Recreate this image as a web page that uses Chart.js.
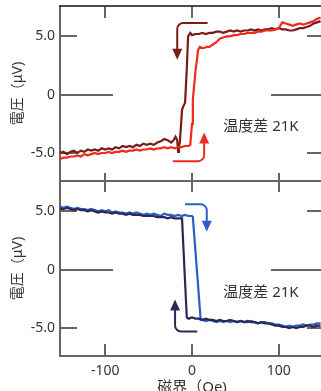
<!DOCTYPE html>
<html lang="ja">
<head>
<meta charset="UTF-8">
<title>磁界と電圧</title>
<script src="https://cdn.jsdelivr.net/npm/chart.js"></script>
<style>
  html, body { margin: 0; padding: 0; overflow: hidden; background: #fff; width: 321px; height: 391px; }
  canvas { position: absolute; left: 0; }
  #topChart { top: 0; }
  #bottomChart { top: 181px; }
</style>
</head>
<body>
<canvas id="topChart" width="330" height="190"></canvas>
<canvas id="bottomChart" width="330" height="210"></canvas>
<script>
// axis ticks
const xTicks = [-100, 0, 100];
const xTickLabels = ['-100', '0', '100'];
const yTicks = [-5, 0, 5];
const yTickLabels = ['-5.0', '0', '5.0'];

// top panel, dark red curve (switches at negative field)
const fieldTopDark = [-152,-148,-144,-140,-136,-132,-128,-124,-120,-116,-112,-108,-104,-100,-96,-92,-88,-84,-80,-76,-72,-68,-64,-60,-56,-52,-48,-44,-40,-36,-32,-28,-24,-21,-19,-17,-16,-15,-14,-11.5,-10,-8,-6,-4.5,-2,0,4,8,12,16,20,24,28,32,36,40,44,48,52,56,60,64,68,72,76,80,84,88,92,96,100,104,108,112,116,120,124,128,132,136,140,144,148];
const voltTopDark = [-5.0,-4.9,-5.1,-4.9,-4.8,-5.0,-4.8,-4.9,-4.7,-4.8,-4.7,-4.8,-4.6,-4.7,-4.6,-4.7,-4.5,-4.6,-4.4,-4.5,-4.4,-4.5,-4.3,-4.4,-4.2,-4.3,-4.2,-4.3,-4.1,-4.0,-3.8,-3.9,-4.1,-3.9,-3.6,-3.9,-4.9,-4.4,-4.1,-1.3,-1.0,-0.7,2.2,5.0,5.3,5.1,5.2,5.2,5.3,5.2,5.3,5.3,5.4,5.4,5.3,5.4,5.5,5.4,5.5,5.4,5.5,5.5,5.6,5.5,5.6,5.5,5.6,5.6,5.7,5.6,5.7,5.6,5.6,5.5,5.5,5.6,5.7,5.7,5.8,5.9,6.1,6.2,6.3];

// top panel, bright red curve (switches at positive field)
const fieldTopRed = [-152,-148,-144,-140,-136,-132,-128,-124,-120,-116,-112,-108,-104,-100,-96,-92,-88,-84,-80,-76,-72,-68,-64,-60,-56,-52,-48,-44,-40,-36,-32,-28,-24,-20,-16,-12,-8,-4,-2,0,1,4,7,9,12,14,17,20,24,28,32,36,40,44,48,52,56,60,64,68,72,76,80,84,88,92,96,100,104,108,112,116,120,124,128,132,136,140,144,148];
const voltTopRed = [-5.5,-5.4,-5.4,-5.3,-5.3,-5.2,-5.3,-5.1,-5.2,-5.1,-5.0,-5.1,-5.0,-5.0,-4.9,-5.0,-4.9,-4.9,-4.8,-4.9,-4.8,-4.8,-4.7,-4.8,-4.7,-4.7,-4.6,-4.7,-4.6,-4.6,-4.5,-4.6,-4.5,-4.6,-4.5,-4.5,-4.4,-4.4,-4.3,-2.5,-0.4,2.0,3.8,4.1,4.0,4.0,4.1,4.1,4.3,4.5,4.8,4.9,5.0,5.0,5.1,5.1,5.2,5.2,5.3,5.3,5.3,5.4,5.4,5.5,5.5,5.5,5.6,5.7,6.2,6.1,6.0,5.9,6.0,6.1,6.0,6.1,6.2,6.3,6.5,6.6];

// bottom panel, blue curve
const fieldBottomBlue = [-152,-148,-144,-140,-136,-132,-128,-124,-120,-116,-112,-108,-104,-100,-96,-92,-88,-84,-80,-76,-72,-68,-64,-60,-56,-52,-48,-44,-40,-36,-32,-28,-24,-20,-16,-12,-8,-4,0,1,10,12,16,20,24,28,32,36,40,44,48,52,56,60,64,68,72,76,80,84,88,92,96,100,104,108,112,116,120,124,128,132,136,140,144,148];
const voltBottomBlue = [5.4,5.3,5.4,5.3,5.2,5.3,5.2,5.2,5.1,5.2,5.1,5.0,5.1,5.0,5.1,4.9,5.0,4.9,4.9,4.8,4.9,4.8,4.9,4.8,4.7,4.8,4.7,4.8,4.7,4.6,4.8,4.7,4.7,4.6,4.7,4.6,4.7,4.6,4.6,4.5,-4.3,-4.3,-4.4,-4.3,-4.4,-4.5,-4.4,-4.5,-4.4,-4.5,-4.4,-4.5,-4.4,-4.5,-4.5,-4.4,-4.5,-4.6,-4.5,-4.5,-4.6,-4.6,-4.7,-4.7,-4.8,-4.9,-4.8,-4.9,-4.8,-4.8,-4.7,-4.8,-4.7,-4.7,-4.6,-4.6];

// bottom panel, navy curve
const fieldBottomNavy = [-152,-148,-144,-140,-136,-132,-128,-124,-120,-116,-112,-108,-104,-100,-96,-92,-88,-84,-80,-76,-72,-68,-64,-60,-56,-52,-48,-44,-40,-36,-32,-28,-24,-20,-16,-11.5,-6,-4,0,4,8,12,16,20,24,28,32,36,40,44,48,52,56,60,64,68,72,76,80,84,88,92,96,100,104,108,112,116,120,124,128,132,136,140,144,148];
const voltBottomNavy = [5.2,5.2,5.3,5.2,5.1,5.2,5.1,5.1,5.0,5.1,5.0,4.9,5.0,4.9,4.9,4.8,4.9,4.8,4.8,4.7,4.8,4.7,4.7,4.7,4.6,4.6,4.6,4.6,4.5,4.5,4.5,4.4,4.5,4.4,4.4,4.4,-4.1,-4.2,-4.1,-4.2,-4.2,-4.3,-4.2,-4.3,-4.3,-4.4,-4.3,-4.4,-4.4,-4.3,-4.4,-4.5,-4.4,-4.5,-4.4,-4.5,-4.5,-4.6,-4.5,-4.6,-4.6,-4.7,-4.8,-4.8,-4.9,-4.9,-5.0,-4.9,-5.0,-4.9,-4.9,-4.8,-4.8,-4.9,-4.8,-4.8];

// sweep-direction arrows (field, voltage)
const arrowTopDark = { x: [18, -17, -17], y: [6.15, 6.15, 3.0] };
const arrowTopRed = { x: [-22, 14, 14], y: [-5.7, -5.7, -3.25] };
const arrowBottomBlue = { x: [-8, 17, 17], y: [5.6, 5.6, 3.25] };
const arrowBottomNavy = { x: [6, -19.5, -19.5], y: [-5.3, -5.3, -2.55] };

const noteText = '温度差 21K';
const axisColor = '#6b655f';
const textColor = '#333333';
const cjkFont = '"Noto Sans", "Noto Sans CJK JP", sans-serif';

function pts(xs, ys) {
  return xs.map((x, i) => ({ x: x, y: ys[i] }));
}

function drawArrow(ctx, chart, arrow, color) {
  const sx = chart.scales.x, sy = chart.scales.y;
  const p = arrow.x.map((x, i) => [sx.getPixelForValue(x), sy.getPixelForValue(arrow.y[i])]);
  const last = p[p.length - 1];
  const dir = Math.sign(last[1] - p[1][1]);
  ctx.save();
  ctx.strokeStyle = color;
  ctx.fillStyle = color;
  ctx.lineWidth = 2;
  ctx.beginPath();
  ctx.moveTo(p[0][0], p[0][1]);
  ctx.arcTo(p[1][0], p[1][1], last[0], last[1], 6);
  ctx.lineTo(last[0], last[1] - dir * 8);
  ctx.stroke();
  ctx.beginPath();
  ctx.moveTo(last[0], last[1]);
  ctx.lineTo(last[0] - 5, last[1] - dir * 11);
  ctx.lineTo(last[0] + 5, last[1] - dir * 11);
  ctx.closePath();
  ctx.fill();
  ctx.restore();
}

const framePlugin = {
  id: 'frame',
  beforeDatasetsDraw(chart, args, opts) {
    const { ctx, chartArea: a } = chart;
    const sx = chart.scales.x, sy = chart.scales.y;
    ctx.save();
    ctx.strokeStyle = axisColor;
    ctx.lineWidth = 2;
    ctx.beginPath();
    sy.ticks.forEach(t => {
      const py = Math.round(sy.getPixelForValue(t.value));
      const len = t.value === 0 ? 53 : 17;
      ctx.moveTo(a.left, py); ctx.lineTo(a.left + len, py);
      ctx.moveTo(a.right, py); ctx.lineTo(a.right - len, py);
    });
    sx.ticks.forEach(t => {
      const px = Math.round(sx.getPixelForValue(t.value));
      ctx.moveTo(px, a.top); ctx.lineTo(px, a.top + opts.topTick);
      ctx.moveTo(px, a.bottom); ctx.lineTo(px, a.bottom - opts.bottomTick);
    });
    ctx.moveTo(a.left, a.top); ctx.lineTo(a.left, a.bottom + 1);
    ctx.moveTo(a.left, a.bottom); ctx.lineTo(a.right, a.bottom);
    ctx.stroke();
    if (opts.topLine) {
      ctx.strokeStyle = '#111';
      ctx.lineWidth = 1.5;
      ctx.beginPath();
      ctx.moveTo(a.left - 1, a.top); ctx.lineTo(a.right, a.top);
      ctx.stroke();
    }
    ctx.restore();
  },
  afterDatasetsDraw(chart, args, opts) {
    const { ctx } = chart;
    opts.arrows.forEach(ar => drawArrow(ctx, chart, ar[0], ar[1]));
    ctx.save();
    ctx.fillStyle = textColor;
    ctx.font = '15px ' + cjkFont;
    ctx.textBaseline = 'middle';
    ctx.fillText(noteText, chart.scales.x.getPixelForValue(opts.note[0]), chart.scales.y.getPixelForValue(opts.note[1]));
    ctx.restore();
  }
};

function lineSet(xs, ys, color) {
  return {
    data: pts(xs, ys),
    borderColor: color,
    borderWidth: 2.2,
    pointRadius: 0,
    tension: 0,
    fill: false
  };
}

function yScale() {
  return {
    type: 'linear',
    min: -7.4,
    max: 7.6,
    afterFit: s => { s.width = 60; s.paddingTop = 0; s.paddingBottom = 0; },
    afterBuildTicks: s => { s.ticks = yTicks.map(v => ({ value: v })); },
    grid: { display: false, drawTicks: false },
    border: { display: false },
    ticks: {
      padding: 5,
      color: textColor,
      font: { size: 14, family: cjkFont },
      callback: v => yTickLabels[yTicks.indexOf(v)]
    },
    title: {
      display: true,
      text: '電圧（μV)',
      color: textColor,
      font: { size: 14, family: cjkFont },
      padding: { top: 10, bottom: 0 }
    }
  };
}

function xScale(show) {
  return {
    type: 'linear',
    min: -152,
    max: 152,
    display: show,
    afterFit: s => { s.height = show ? 35 : 0; s.paddingLeft = 0; s.paddingRight = 0; },
    afterBuildTicks: s => { s.ticks = xTicks.map(v => ({ value: v })); },
    grid: { display: false, drawTicks: false },
    border: { display: false },
    ticks: {
      padding: 7,
      maxRotation: 0,
      color: textColor,
      font: { size: 14, family: cjkFont },
      callback: v => xTickLabels[xTicks.indexOf(v)]
    },
    title: {
      display: true,
      text: '磁界（Oe)',
      color: textColor,
      font: { size: 15, family: cjkFont },
      padding: { top: 0, bottom: -6 }
    }
  };
}

new Chart(document.getElementById('topChart'), {
  type: 'line',
  data: {
    datasets: [
      lineSet(fieldTopRed, voltTopRed, '#f2291d'),
      lineSet(fieldTopDark, voltTopDark, '#7a1d17')
    ]
  },
  options: {
    responsive: false,
    animation: false,
    layout: { padding: { top: 6, right: 6, bottom: 9, left: 0 } },
    plugins: {
      legend: { display: false },
      tooltip: { enabled: false },
      frame: {
        topLine: true, topTick: 12, bottomTick: 8,
        arrows: [[arrowTopDark, '#7a1d17'], [arrowTopRed, '#f2291d']],
        note: [36, -2.74]
      }
    },
    scales: { x: xScale(false), y: yScale() }
  },
  plugins: [framePlugin]
});

new Chart(document.getElementById('bottomChart'), {
  type: 'line',
  data: {
    datasets: [
      lineSet(fieldBottomNavy, voltBottomNavy, '#2c2757'),
      lineSet(fieldBottomBlue, voltBottomBlue, '#2c5fc6')
    ]
  },
  options: {
    responsive: false,
    animation: false,
    layout: { padding: { top: 0, right: 6, bottom: 0, left: 0 } },
    plugins: {
      legend: { display: false },
      tooltip: { enabled: false },
      frame: {
        topLine: false, topTick: 11, bottomTick: 12,
        arrows: [[arrowBottomBlue, '#2c5fc6'], [arrowBottomNavy, '#2c2757']],
        note: [36, -1.97]
      }
    },
    scales: { x: xScale(true), y: yScale() }
  },
  plugins: [framePlugin]
});
</script>
</body>
</html>
